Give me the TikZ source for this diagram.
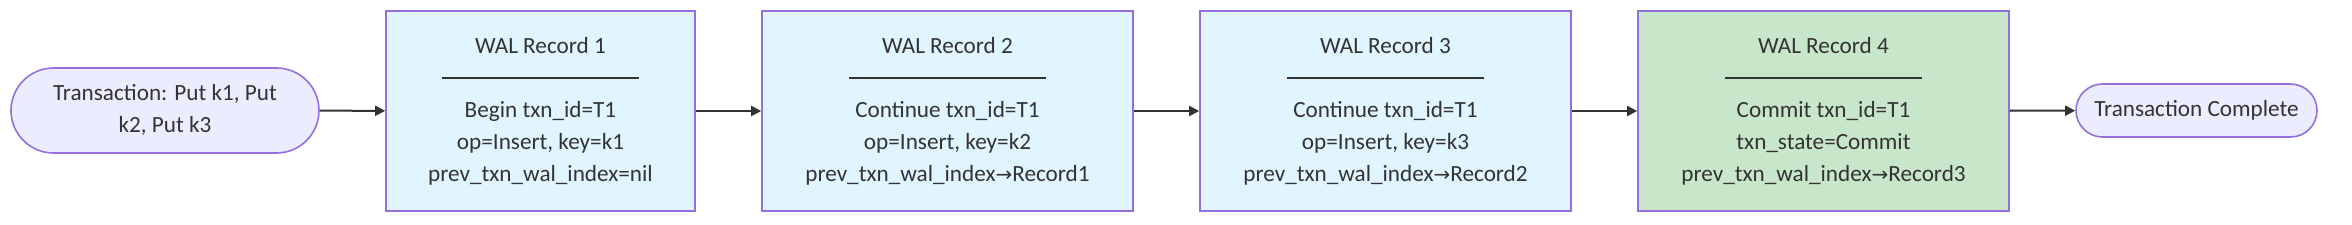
\documentclass[tikz,border=0pt]{standalone}
\usepackage{fontspec}
\setmainfont{Carlito}
\newfontfamily\arrowfont{DejaVu Sans}
\usetikzlibrary{arrows.meta}
\definecolor{txt}{HTML}{333333}
\definecolor{stadfill}{HTML}{ECECFF}
\definecolor{purp}{HTML}{9370DB}
\definecolor{recblue}{HTML}{E1F5FE}
\definecolor{recgreen}{HTML}{C8E6C9}
\newcommand{\sepline}{\rule[3.4pt]{98.5pt}{0.8pt}}
\newcommand{\arr}{{\arrowfont\fontsize{10}{16}\selectfont →}}
\tikzset{
  base/.style={draw=purp, line width=0.8pt, text=txt, align=center, inner sep=0pt,
    font=\fontsize{11.6}{16}\selectfont},
  stad/.style={base, fill=stadfill, rounded corners=#1},
  rec/.style={base, fill=recblue, minimum height=100pt},
  recfinal/.style={rec, fill=recgreen},
  link/.style={draw=txt, line width=1pt, -{Triangle[length=5pt,width=5pt]}},
}
\begin{document}
\begin{tikzpicture}[x=0.5pt,y=-0.5pt]
\useasboundingbox (0,0) rectangle (2352,225);
\node[stad=21.25pt, minimum width=154pt, minimum height=42.5pt] (start) at (165,110.5)
  {\strut Transaction: Put k1, Put\\k2, Put k3\strut};
\node[rec, minimum width=154.5pt] (r1) at (540.5,111)
  {\strut WAL Record 1\\\sepline\\Begin txn\_id=T1\\op=Insert, key=k1\\prev\_txn\_wal\_index=nil\strut};
\node[rec, minimum width=185.5pt] (r2) at (947.5,111)
  {\strut WAL Record 2\\\sepline\\Continue txn\_id=T1\\op=Insert, key=k2\\prev\_txn\_wal\_index\arr Record1\strut};
\node[rec, minimum width=185.5pt] (r3) at (1385.5,111)
  {\strut WAL Record 3\\\sepline\\Continue txn\_id=T1\\op=Insert, key=k3\\prev\_txn\_wal\_index\arr Record2\strut};
\node[recfinal, minimum width=185.5pt] (r4) at (1823.5,111)
  {\strut WAL Record 4\\\sepline\\Commit txn\_id=T1\\txn\_state=Commit\\prev\_txn\_wal\_index\arr Record3\strut};
\node[stad=13.25pt, minimum width=120.5pt, minimum height=26.5pt] (end) at (2196.5,110.5)
  {\strut Transaction Complete\strut};
\draw[link] (start) -- (r1);
\draw[link] (r1) -- (r2);
\draw[link] (r2) -- (r3);
\draw[link] (r3) -- (r4);
\draw[link] (r4) -- (end);
\end{tikzpicture}
\end{document}
